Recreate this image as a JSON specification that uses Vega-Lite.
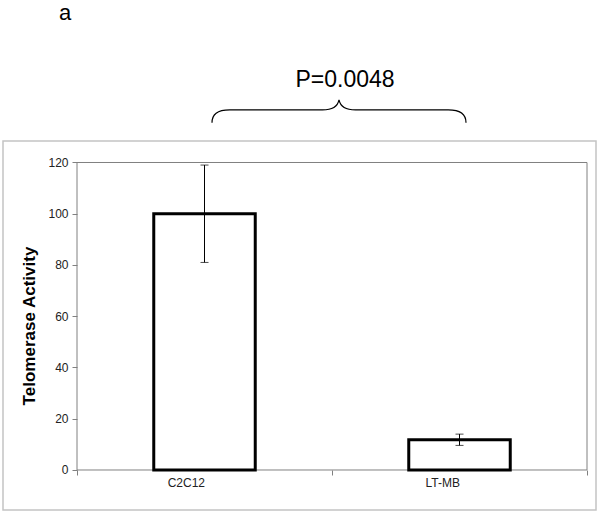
{
  "$schema": "https://vega.github.io/schema/vega-lite/v6.json",
  "width": 593,
  "height": 369,
  "autosize": {"type": "none"},
  "padding": {"left": 3, "top": 141, "right": 1, "bottom": 1},
  "background": "white",
  "config": {
    "view": {"stroke": "#c4c4c4", "strokeWidth": 1.5},
    "font": "Liberation Sans"
  },
  "data": {
    "values": [
      {"cell": "C2C12", "activity": 100, "lo": 81, "hi": 119},
      {"cell": "LT-MB", "activity": 11.8, "lo": 9.6, "hi": 14.0}
    ]
  },
  "layer": [
    {
      "data": {"values": [{}]},
      "mark": {"type": "rule", "color": "#808080", "strokeWidth": 1},
      "encoding": {
        "x": {"datum": "C2C12", "type": "nominal", "bandPosition": 0},
        "x2": {"datum": "LT-MB", "bandPosition": 1},
        "y": {"datum": 0, "type": "quantitative"}
      }
    },
    {
      "data": {"values": [{}]},
      "mark": {"type": "rule", "color": "#808080", "strokeWidth": 1},
      "encoding": {
        "x": {"datum": "C2C12", "type": "nominal", "bandPosition": 0},
        "x2": {"datum": "LT-MB", "bandPosition": 1},
        "y": {"datum": 120, "type": "quantitative"}
      }
    },
    {
      "data": {"values": [{}]},
      "mark": {"type": "rule", "color": "#808080", "strokeWidth": 1},
      "encoding": {
        "x": {"datum": "C2C12", "type": "nominal", "bandPosition": 0},
        "y": {"datum": 0, "type": "quantitative"},
        "y2": {"datum": 120}
      }
    },
    {
      "data": {"values": [{}]},
      "mark": {"type": "rule", "color": "#808080", "strokeWidth": 1},
      "encoding": {
        "x": {"datum": "LT-MB", "type": "nominal", "bandPosition": 1},
        "y": {"datum": 0, "type": "quantitative"},
        "y2": {"datum": 120}
      }
    },
    {
      "mark": {"type": "bar", "fill": "white", "stroke": "black", "strokeWidth": 3, "width": {"band": 0.398}},
      "encoding": {
        "x": {
          "field": "cell",
          "type": "nominal",
          "scale": {"type": "band", "domain": ["C2C12", "LT-MB"], "paddingInner": 0, "paddingOuter": 0.16275, "align": 0.8916},
          "axis": {
            "title": null,
            "orient": "bottom",
            "offset": -40,
            "domain": false,
            "ticks": true,
            "tickBand": "extent",
            "tickSize": 5,
            "tickColor": "#808080",
            "labelAngle": 0,
            "labelFont": "Liberation Sans",
            "labelFontSize": 12,
            "labelColor": "#222222",
            "labelPadding": 7
          }
        },
        "y": {
          "field": "activity",
          "type": "quantitative",
          "scale": {"domain": [-15.61, 128.39], "nice": false, "zero": false},
          "axis": {
            "title": "Telomerase Activity",
            "orient": "left",
            "offset": -74,
            "values": [0, 20, 40, 60, 80, 100, 120],
            "domain": false,
            "grid": false,
            "tickSize": 5,
            "tickColor": "#808080",
            "labelFont": "Liberation Sans",
            "labelFontSize": 12,
            "labelColor": "#222222",
            "labelPadding": 4,
            "titleFont": "Liberation Sans",
            "titleFontSize": 17,
            "titleFontWeight": "bold",
            "titleColor": "black",
            "titlePadding": 9
          }
        },
        "y2": {"datum": 0}
      }
    },
    {
      "mark": {"type": "rule", "color": "black", "strokeWidth": 1},
      "encoding": {
        "x": {"field": "cell", "type": "nominal"},
        "y": {"field": "lo", "type": "quantitative"},
        "y2": {"field": "hi"}
      }
    },
    {
      "mark": {"type": "tick", "orient": "horizontal", "color": "black", "size": 8, "thickness": 1},
      "encoding": {
        "x": {"field": "cell", "type": "nominal"},
        "y": {"field": "lo", "type": "quantitative"}
      }
    },
    {
      "mark": {"type": "tick", "orient": "horizontal", "color": "black", "size": 8, "thickness": 1},
      "encoding": {
        "x": {"field": "cell", "type": "nominal"},
        "y": {"field": "hi", "type": "quantitative"}
      }
    },
    {
      "data": {"values": [{}]},
      "mark": {
        "type": "point",
        "shape": "M-1,0.1 C-1,0.035 -0.96,0 -0.86,0 L-0.13,0 C-0.05,0 -0.01,-0.03 0,-0.079 C0.01,-0.03 0.05,0 0.13,0 L0.86,0 C0.96,0 1,0.035 1,0.1",
        "size": 64516,
        "filled": false,
        "stroke": "black",
        "strokeWidth": 1.2,
        "opacity": 1,
        "xOffset": 7
      },
      "encoding": {
        "x": {"datum": "C2C12", "type": "nominal", "bandPosition": 1},
        "y": {"datum": 140.5, "type": "quantitative"}
      }
    },
    {
      "data": {"values": [{"label": "P=0.0048"}]},
      "mark": {
        "type": "text",
        "font": "Liberation Sans",
        "fontSize": 23,
        "color": "black",
        "align": "center",
        "baseline": "alphabetic",
        "xOffset": 13
      },
      "encoding": {
        "x": {"datum": "C2C12", "type": "nominal", "bandPosition": 1},
        "y": {"datum": 149.3, "type": "quantitative"},
        "text": {"field": "label"}
      }
    },
    {
      "data": {"values": [{"label": "a"}]},
      "mark": {
        "type": "text",
        "font": "Liberation Sans",
        "fontSize": 22,
        "color": "black",
        "align": "left",
        "baseline": "alphabetic",
        "xOffset": -18
      },
      "encoding": {
        "x": {"datum": "C2C12", "type": "nominal", "bandPosition": 0},
        "y": {"datum": 175.6, "type": "quantitative"},
        "text": {"field": "label"}
      }
    }
  ]
}
